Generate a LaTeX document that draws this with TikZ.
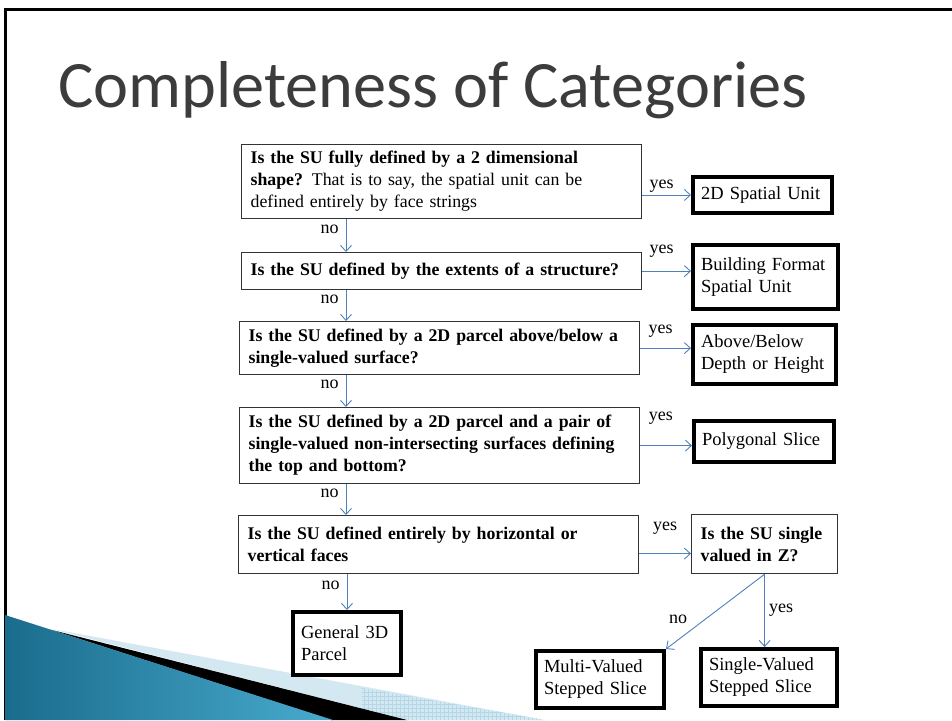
\documentclass[tikz,border=0pt]{standalone}
\usepackage{fontspec}
\setmainfont{Liberation Serif}
\newfontfamily\titlefont{Carlito}
\usepackage{tikz}
\usetikzlibrary{arrows.meta,positioning,calc}
\definecolor{ink}{HTML}{000000}
\definecolor{boxline}{HTML}{333333}
\definecolor{flowblue}{HTML}{4F81BD}
\definecolor{titlegray}{HTML}{3C3C3C}
\definecolor{tealdark}{HTML}{1A6C8C}
\definecolor{teallight}{HTML}{48ABCE}
\definecolor{paleblue}{HTML}{D3E8F1}
\definecolor{gridblue}{HTML}{B3D7E6}
\newcommand{\flowfont}{\fontsize{17.8}{22}\selectfont}
\newcommand{\outcomefont}{\fontsize{18.5}{22}\selectfont}
\tikzset{
  question/.style={rectangle, draw=boxline, line width=1.2pt, anchor=north west, align=left, inner xsep=9pt, inner ysep=0pt, font=\flowfont\bfseries},
  answer/.style={rectangle, draw=ink, line width=4pt, anchor=north west, align=left, inner xsep=8pt, inner ysep=0pt, font=\outcomefont},
  arrow/.style={-{Straight Barb[length=6pt,width=11pt]}, draw=flowblue, line width=0.9pt},
  lbl/.style={font=\fontsize{18}{20}\selectfont, inner sep=1pt}
}

\begin{document}
\begin{tikzpicture}[x=1pt, y=-1pt]
  \useasboundingbox[fill=white] (0,0) rectangle (952,720);

  % slide frame and corner art
  \draw[ink, line width=3pt] (5.5,720) -- (5.5,9) -- (952,9);
  \fill[paleblue] (52,629) -- (545,720) -- (407,720) -- cycle;
  \begin{scope}
    \clip (362,688) -- (545,720) -- (362,720) -- cycle;
    \draw[gridblue, line width=0.6pt, step=4pt] (360,684) grid (548,720);
  \end{scope}
  \fill[ink] (52,630) -- (407,720) -- (331,720) -- cycle;
  \shade[left color=tealdark, right color=teallight] (5,615) -- (333,720) -- (5,720) -- cycle;

  % heading
  \node[anchor=base west, inner sep=0pt, font=\titlefont\fontsize{66.3}{78}\selectfont, text=titlegray] (title) at (58,107) {Completeness of Categories};

  % questions
  \node[question, text width=382pt, minimum height=74pt] (q1) at (241,144) {Is the SU fully defined by a 2 dimensional\\ shape? \textmd{That is to say, the spatial unit can be}\\ \textmd{defined entirely by face strings}};
  \node[question, text width=382pt, minimum height=37pt] (q2) at (241,252) {Is the SU defined by the extents of a structure?};
  \node[question, text width=382pt, minimum height=53pt] (q3) at (239,321) {Is the SU defined by a 2D parcel above/below a\\ single-valued surface?};
  \node[question, text width=382pt, minimum height=76pt] (q4) at (239,407) {Is the SU defined by a 2D parcel and a pair of\\ single-valued non-intersecting surfaces defining\\ the top and bottom?};
  \node[question, text width=382pt, minimum height=58pt] (q5) at (238,515) {Is the SU defined entirely by horizontal or\\ vertical faces};
  \node[question, text width=128pt, minimum height=59pt] (zq) at (691,514) {Is the SU single\\ valued in Z?};

  % outcomes
  \node[answer, text width=123pt, minimum height=36pt] (a1) at (691,175) {2D Spatial Unit};
  \node[answer, text width=129pt, minimum height=64pt] (a2) at (691,243) {Building Format\\ Spatial Unit};
  \node[answer, text width=127pt, minimum height=59pt] (a3) at (691,323) {Above/Below\\ Depth or Height};
  \node[answer, text width=124pt, minimum height=41pt] (a4) at (692,419) {Polygonal Slice};
  \node[answer, text width=92pt, minimum height=63pt] (a5) at (291,610) {General 3D\\ Parcel};
  \node[answer, text width=112pt, minimum height=57pt] (a6) at (534,649) {Multi-Valued\\ Stepped Slice};
  \node[answer, text width=120pt, minimum height=57pt] (a7) at (699,647) {Single-Valued\\ Stepped Slice};

  \coordinate (spine) at (346,0);

  % yes branches
  \draw[arrow] (q1.east |- a1.west) -- node[lbl, above=1pt, pos=0.4] {yes} (a1.west);
  \draw[arrow] (q2.east) -- node[lbl, above=12pt, pos=0.4] {yes} (q2.east -| a2.west);
  \draw[arrow] (q3.east) -- node[lbl, above=9pt, pos=0.4] {yes} (q3.east -| a3.west);
  \draw[arrow] (q4.east) -- node[lbl, above=20pt, pos=0.4] {yes} (q4.east -| a4.west);
  \draw[arrow] ([yshift=-9pt]q5.east) -- node[lbl, above=18pt, pos=0.5] {yes} ([yshift=-9pt]q5.east -| zq.west);

  % no branches
  \draw[arrow] (q1.south -| spine) -- node[lbl, left=6pt, pos=0.3] {no} (q2.north -| spine);
  \draw[arrow] (q2.south -| spine) -- node[lbl, left=6pt, pos=0.3] {no} (q3.north -| spine);
  \draw[arrow] (q3.south -| spine) -- node[lbl, left=6pt, pos=0.3] {no} (q4.north -| spine);
  \draw[arrow] (q4.south -| spine) -- node[lbl, left=6pt, pos=0.3] {no} (q5.north -| spine);
  \draw[arrow] (q5.south -| a5.north) -- node[lbl, left=6pt, pos=0.3] {no} (a5.north);

  % single valued in Z
  \draw[arrow] (zq.south) -- node[lbl, left=17pt, pos=0.6] {no} (a6.north east);
  \draw[arrow] (zq.south) -- node[lbl, right=3pt, pos=0.5] {yes} (zq.south |- a7.north);
\end{tikzpicture}
\end{document}
